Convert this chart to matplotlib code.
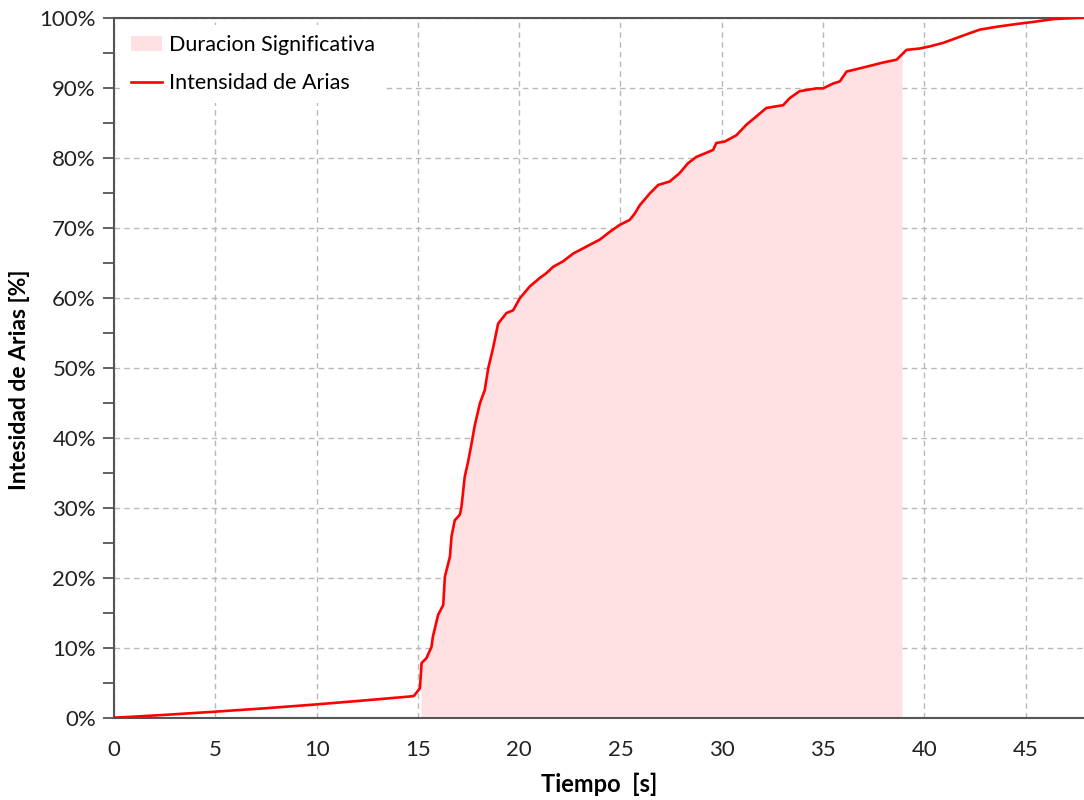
import numpy as np
import matplotlib.pyplot as plt
from matplotlib.ticker import MultipleLocator, FuncFormatter

plt.rcParams['font.family'] = ['Lato', 'DejaVu Sans']

# tiempo [s] y intensidad de Arias acumulada [%]
t = [0.0, 1.0, 2.5, 5.0, 7.5, 10.0, 12.5, 14.5, 14.8, 15.1, 15.18, 15.42, 15.67, 15.74,
     16.0, 16.25, 16.33, 16.58, 16.66, 16.82, 17.07, 17.15, 17.31, 17.48, 17.65,
     17.81, 18.06, 18.3, 18.47, 18.71, 18.96, 19.37, 19.7, 20.03, 20.52, 21.01,
     21.34, 21.67, 22.17, 22.66, 23.32, 23.98, 24.47, 24.96, 25.45, 25.7, 25.95,
     26.45, 26.86, 27.43, 27.92, 28.33, 28.74, 29.57, 29.73, 30.14, 30.72, 31.21,
     31.71, 32.2, 33.03, 33.35, 33.84, 34.67, 35.0, 35.5, 35.83, 36.16, 37.15,
     37.97, 38.63, 39.12, 39.78, 40.27, 40.93, 41.59, 42.25, 42.75, 43.57, 44.56,
     45.39, 46.37, 47.03, 47.88]
ia = [0.0, 0.15, 0.4, 0.86, 1.35, 1.9, 2.5, 3.0, 3.1, 4.2, 7.8, 8.5, 10.1, 11.6,
      14.7, 16.1, 20.1, 23.0, 25.9, 28.2, 29.0, 30.1, 34.4, 36.6, 39.2,
      41.8, 44.9, 46.8, 49.9, 52.8, 56.3, 57.8, 58.2, 59.9, 61.6, 62.8,
      63.5, 64.4, 65.2, 66.3, 67.3, 68.3, 69.4, 70.4, 71.1, 72.0, 73.2,
      74.9, 76.1, 76.6, 77.8, 79.2, 80.1, 81.1, 82.1, 82.3, 83.2, 84.7,
      85.9, 87.1, 87.5, 88.5, 89.5, 89.9, 89.9, 90.6, 90.9, 92.3, 93.0,
      93.6, 94.0, 95.4, 95.6, 95.9, 96.4, 97.1, 97.8, 98.3, 98.7, 99.1,
      99.4, 99.8, 99.9, 100.0]

# duracion significativa (5% - 95%)
t_ini = 15.15
t_fin = 38.9

t = np.array(t)
ia = np.array(ia)

fig = plt.figure(figsize=(10.84, 8), dpi=100)
ax = fig.add_axes([0.1052, 0.1029, 0.8948, 0.8750])

mask = (t >= t_ini) & (t <= t_fin)
tf = np.concatenate(([t_ini], t[mask], [t_fin]))
iaf = np.concatenate(([np.interp(t_ini, t, ia)], ia[mask], [np.interp(t_fin, t, ia)]))
ax.fill_between(tf, 0, iaf, color='#ffe1e4', lw=0, label='Duracion Significativa', zorder=1)
ax.plot(t, ia, color='#ff0000', lw=1.9, label='Intensidad de Arias', zorder=3)

ax.set_xlim(0, 47.88)
ax.set_ylim(0, 100)
ax.xaxis.set_major_locator(MultipleLocator(5))
ax.yaxis.set_major_locator(MultipleLocator(10))
ax.yaxis.set_minor_locator(MultipleLocator(5))
ax.yaxis.set_major_formatter(FuncFormatter(lambda v, p: f'{v:.0f}%'))
ax.tick_params(axis='x', length=0, pad=16, labelsize=16, colors='#222222')
ax.tick_params(axis='y', which='both', length=8, width=1.3, color='#555555',
               pad=5, labelsize=16, labelcolor='#222222')

ax.grid(True, which='major', color='#b8b8b8', linestyle=(0, (4, 3)), lw=1.0, zorder=0)
ax.set_axisbelow(True)

for s in ['left', 'bottom', 'top']:
    ax.spines[s].set_color('#555555')
    ax.spines[s].set_linewidth(1.5)
ax.spines['right'].set_visible(False)

ax.set_xlabel('Tiempo  [s]', fontsize=17, fontweight='bold', labelpad=9)
ax.set_ylabel('Intesidad de Arias [%]', fontsize=16.5, fontweight='bold')
ax.yaxis.set_label_coords(-0.087, 0.483)

leg = ax.legend(loc='upper left', fontsize=15.5, frameon=True, fancybox=False,
                edgecolor='none', facecolor='white', framealpha=1,
                borderaxespad=0.35, borderpad=0.45, handlelength=1.45,
                handletextpad=0.3, labelspacing=0.85)
leg.get_frame().set_linewidth(0)

fig.savefig('out.png', dpi=100)
